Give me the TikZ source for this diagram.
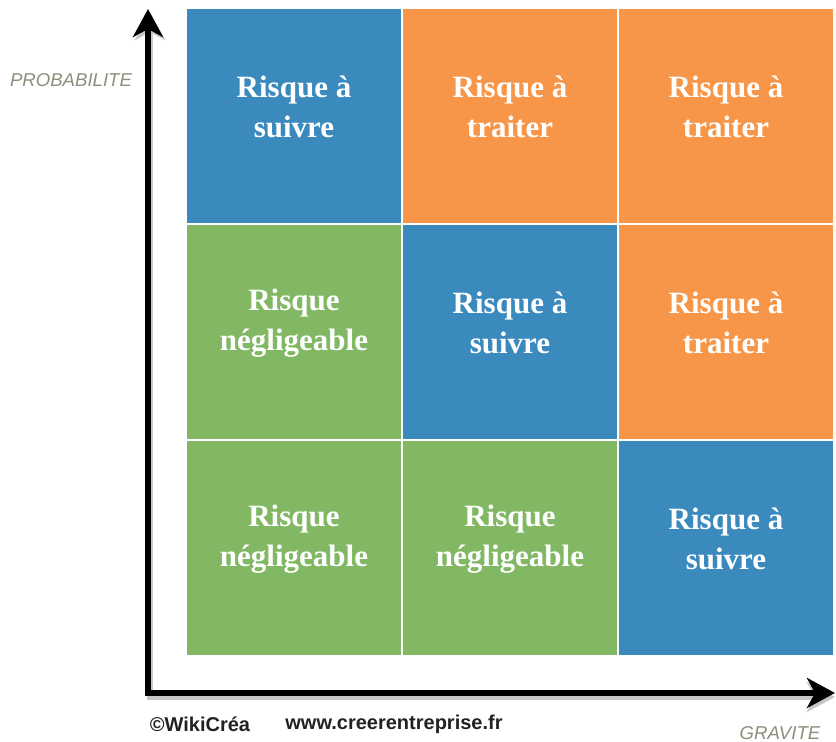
\documentclass[tikz,border=0pt]{standalone}
\usepackage{fontspec}
\setmainfont{Liberation Serif}
\setsansfont{Liberation Sans}
\usetikzlibrary{arrows.meta}
\definecolor{rblue}{HTML}{3B8ABD}
\definecolor{rorange}{HTML}{F79648}
\definecolor{rgreen}{HTML}{82B864}
\definecolor{axislabel}{HTML}{8E8E7C}
\definecolor{footer}{HTML}{222222}
\tikzset{
  cellbox/.style={rectangle, draw=white, line width=1pt, minimum size=108pt, inner sep=0pt},
  celltext/.style={text=white, align=center, font=\fontsize{15.5pt}{20pt}\selectfont\bfseries, inner sep=0pt},
  axisline/.style={line width=2.6pt, black, {Stealth[length=14pt,width=15pt,inset=4pt]}-{Stealth[length=14pt,width=15pt,inset=4pt]}},
  axisshadow/.style={line width=2.6pt, black!22, {Stealth[length=14pt,width=15pt,inset=4pt]}-{Stealth[length=14pt,width=15pt,inset=4pt]}},
  axlabel/.style={text=axislabel, font=\sffamily\itshape\fontsize{9.3pt}{11pt}\selectfont, inner sep=0pt},
  footlabel/.style={text=footer, font=\sffamily\bfseries\fontsize{10pt}{12pt}\selectfont, inner sep=0pt}
}
\begin{document}
\begin{tikzpicture}[x=0.5pt,y=-0.5pt]
\useasboundingbox (0,0) rectangle (836,742);
\fill[white] (0,0) rectangle (836,742);
% cells
\node[cellbox, fill=rblue]   (c11) at (294,116) {};
\node[cellbox, fill=rorange] (c12) at (510,116) {};
\node[cellbox, fill=rorange] (c13) at (726,116) {};
\node[cellbox, fill=rgreen]  (c21) at (294,332) {};
\node[cellbox, fill=rblue]   (c22) at (510,332) {};
\node[cellbox, fill=rorange] (c23) at (726,332) {};
\node[cellbox, fill=rgreen]  (c31) at (294,548) {};
\node[cellbox, fill=rgreen]  (c32) at (510,548) {};
\node[cellbox, fill=rblue]   (c33) at (726,548) {};
% texts
\node[celltext] (t11) at ([yshift=4.5pt]c11.center) {Risque à\\suivre};
\node[celltext] (t12) at ([yshift=4.5pt]c12.center) {Risque à\\traiter};
\node[celltext] (t13) at ([yshift=4.5pt]c13.center) {Risque à\\traiter};
\node[celltext] (t21) at ([yshift=4.5pt]c21.center) {Risque\\négligeable};
\node[celltext] (t22) at ([yshift=4.5pt]c22.center) {Risque à\\suivre};
\node[celltext] (t23) at ([yshift=4.5pt]c23.center) {Risque à\\traiter};
\node[celltext] (t31) at ([yshift=4.5pt]c31.center) {Risque\\négligeable};
\node[celltext] (t32) at ([yshift=4.5pt]c32.center) {Risque\\négligeable};
\node[celltext] (t33) at ([yshift=4.5pt]c33.center) {Risque à\\suivre};
% axes
\coordinate (ytip) at (148,9);
\coordinate (origin) at (148,693);
\coordinate (xtip) at (835,693);
\coordinate (ytipS) at (150,12);
\coordinate (originS) at (150,697);
\coordinate (xtipS) at (835,697);
\draw[axisshadow] (ytipS) -- (originS) -- (xtipS);
\draw[axisline] (ytip) -- (origin) -- (xtip);
% labels
\node[axlabel] (prob) at (71,80) {PROBABILITE};
\node[axlabel] (grav) at (780,733) {GRAVITE};
\node[footlabel] (wiki) at (200,724) {©WikiCréa};
\node[footlabel] (site) at (394,724) {www.creerentreprise.fr};
\end{tikzpicture}
\end{document}
